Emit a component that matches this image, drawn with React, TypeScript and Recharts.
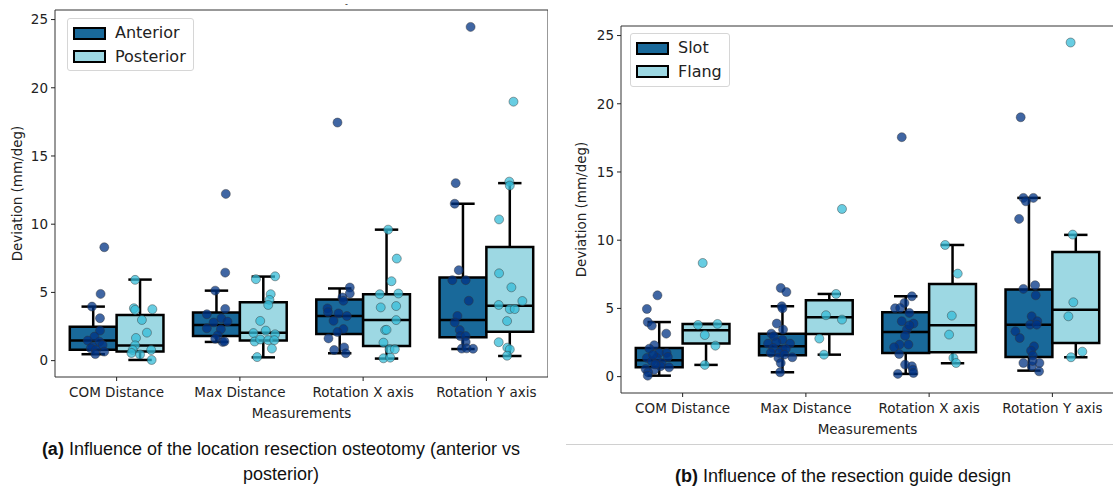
import React from 'react';
import { ScatterChart, Scatter, XAxis, YAxis, ReferenceArea, ReferenceLine } from 'recharts';

type Pair = [number, number]; // [value, jitter offset from the category centre]
type Stat = [number, number, number, number, number]; // [q1, median, q3, whisker low, whisker high]

const measurements = ['COM Distance', 'Max Distance', 'Rotation X axis', 'Rotation Y axis'];
const yTicks = [0, 5, 10, 15, 20, 25];
const xTicks = [0, 1, 2, 3];

// ---------- Panel (a): anterior vs posterior ----------
const anteriorBoxes: Stat[] = [
  [0.8, 1.47, 2.48, 0.47, 3.96],
  [1.81, 2.62, 3.52, 1.37, 5.13],
  [1.95, 3.27, 4.48, 0.54, 5.29],
  [1.71, 2.97, 6.09, 0.85, 11.5],
];
const posteriorBoxes: Stat[] = [
  [0.66, 1.1, 3.35, 0.05, 5.94],
  [1.47, 2.05, 4.28, 0.24, 6.16],
  [1.07, 2.97, 4.87, 0.15, 9.6],
  [2.12, 4.02, 8.33, 0.34, 13.01],
];
const anteriorCom: Pair[] = [[8.31, -0.1], [4.89, -0.13], [3.96, -0.2], [3.11, -0.135], [2.2, -0.135], [1.76, -0.18], [1.47, -0.235], [1.39, -0.14], [1.15, -0.114], [1.03, -0.195], [0.9, -0.21], [0.78, -0.168], [0.66, -0.1], [0.48, -0.173]];
const anteriorMax: Pair[] = [[12.22, -0.114], [6.45, -0.119], [5.13, -0.2], [3.79, -0.119], [3.4, -0.268], [3.1, -0.15], [2.8, -0.213], [2.86, -0.1], [2.37, -0.268], [2.3, -0.154], [1.85, -0.18], [1.6, -0.2], [1.37, -0.14], [1.4, -0.125]];
const anteriorRotX: Pair[] = [[17.45, -0.208], [5.36, -0.108], [4.92, -0.108], [4.63, -0.168], [4.39, -0.16], [3.83, -0.289], [3.55, -0.285], [3.46, -0.2], [3.27, -0.132], [2.92, -0.24], [2.31, -0.16], [2.1, -0.208], [1.63, -0.281], [0.78, -0.235], [0.97, -0.154], [0.54, -0.141]];
const anteriorRotY: Pair[] = [[24.46, -0.128], [13.01, -0.249], [11.5, -0.257], [6.63, -0.224], [5.9, -0.276], [5.9, -0.168], [4.39, -0.143], [3.27, -0.235], [2.8, -0.257], [2.24, -0.216], [1.8, -0.211], [1.8, -0.168], [1.37, -0.168], [0.88, -0.2], [0.9, -0.16], [0.87, -0.108]];
const posteriorCom: Pair[] = [[5.92, 0.15], [3.84, 0.14], [3.72, 0.15], [3.77, 0.29], [2.98, 0.205], [2.05, 0.246], [1.66, 0.157], [1.12, 0.15], [0.78, 0.13], [0.56, 0.12], [0.45, 0.19], [0.78, 0.28], [0.05, 0.284]];
const posteriorMax: Pair[] = [[5.97, 0.13], [6.18, 0.286], [4.87, 0.25], [4.45, 0.24], [4.08, 0.23], [2.91, 0.165], [2.02, 0.11], [2.2, 0.21], [1.93, 0.286], [1.4, 0.12], [1.55, 0.165], [1.5, 0.23], [1.5, 0.28], [0.88, 0.26], [0.26, 0.14]];
const posteriorRotX: Pair[] = [[9.6, 0.203], [7.48, 0.273], [5.82, 0.23], [4.87, 0.135], [4.92, 0.286], [3.9, 0.143], [4.0, 0.268], [2.97, 0.268], [2.24, 0.178], [2.26, 0.19], [1.32, 0.165], [0.83, 0.214], [0.83, 0.257], [0.17, 0.165], [0.22, 0.22]];
const posteriorRotY: Pair[] = [[18.98, 0.22], [13.12, 0.186], [12.83, 0.19], [10.35, 0.103], [6.4, 0.103], [5.37, 0.203], [4.37, 0.292], [4.08, 0.1], [3.78, 0.19], [3.78, 0.23], [2.9, 0.168], [1.35, 0.1], [0.95, 0.17], [0.82, 0.19], [0.36, 0.168]];

// ---------- Panel (b): slot vs flang ----------
const slotBoxes: Stat[] = [
  [0.68, 1.2, 2.1, 0.07, 4.0],
  [1.56, 2.22, 3.15, 0.32, 5.16],
  [1.74, 3.27, 4.72, 0.2, 5.89],
  [1.44, 3.81, 6.38, 0.44, 13.1],
];
const flangBoxes: Stat[] = [
  [2.42, 3.4, 3.86, 0.86, 3.86],
  [3.13, 4.35, 5.6, 1.61, 6.06],
  [1.78, 3.76, 6.79, 0.98, 9.65],
  [2.47, 4.91, 9.14, 1.42, 10.39],
];
const slotCom: Pair[] = [[5.96, -0.204], [4.96, -0.29], [4.0, -0.283], [3.74, -0.25], [3.15, -0.133], [2.3, -0.23], [2.05, -0.27], [1.74, -0.19], [1.74, -0.13], [1.44, -0.12], [1.37, -0.29], [1.37, -0.21], [1.12, -0.25], [1.0, -0.17], [0.76, -0.18], [0.68, -0.11], [0.56, -0.3], [0.5, -0.23], [0.32, -0.28], [0.07, -0.283], [0.9, -0.22], [1.6, -0.24]];
const slotMax: Pair[] = [[6.5, -0.204], [6.2, -0.158], [5.16, -0.196], [5.0, -0.19], [3.89, -0.236], [3.45, -0.185], [3.15, -0.28], [2.96, -0.26], [2.7, -0.19], [2.42, -0.307], [2.52, -0.24], [2.42, -0.128], [2.1, -0.265], [1.98, -0.19], [2.03, -0.163], [1.74, -0.217], [1.42, -0.11], [1.37, -0.223], [1.61, -0.174], [1.0, -0.204], [0.32, -0.209], [1.74, -0.285]];
const slotRotX: Pair[] = [[17.55, -0.222], [5.89, -0.14], [5.4, -0.2], [5.01, -0.276], [5.03, -0.235], [4.67, -0.16], [4.06, -0.222], [3.89, -0.127], [3.45, -0.18], [3.0, -0.195], [2.35, -0.168], [2.35, -0.24], [2.15, -0.284], [1.66, -0.243], [0.88, -0.195], [0.76, -0.14], [0.51, -0.132], [0.2, -0.254], [0.27, -0.127], [3.75, -0.16]];
const slotRotY: Pair[] = [[19.01, -0.257], [13.1, -0.235], [13.1, -0.154], [12.85, -0.215], [11.56, -0.27], [6.43, -0.235], [6.7, -0.14], [5.96, -0.135], [4.42, -0.168], [4.06, -0.122], [3.81, -0.181], [3.81, -0.127], [3.32, -0.3], [2.83, -0.265], [2.22, -0.149], [1.9, -0.173], [1.54, -0.159], [1.0, -0.235], [1.0, -0.105], [0.76, -0.167], [0.39, -0.108], [1.15, -0.16]];
const flangCom: Pair[] = [[8.33, 0.163], [3.79, 0.125], [3.86, 0.283], [3.05, 0.18], [2.27, 0.266], [0.86, 0.18]];
const flangMax: Pair[] = [[12.29, 0.293], [6.06, 0.245], [4.5, 0.163], [4.18, 0.293], [2.79, 0.109], [1.61, 0.147]];
const flangRotX: Pair[] = [[9.65, 0.13], [7.55, 0.232], [4.47, 0.184], [3.08, 0.162], [1.37, 0.197], [1.0, 0.219]];
const flangRotY: Pair[] = [[24.49, 0.148], [10.41, 0.165], [5.45, 0.17], [4.42, 0.13], [1.83, 0.243], [1.42, 0.151]];

const DARK_FILL = '#19699a';
const LIGHT_FILL = '#9dd8e3';
const DARK_DOT = '#003384';
const LIGHT_DOT = '#36bcd8';
const Y_DOMAIN: [number, number] = [-1.2, 25.7];
const X_DOMAIN: [number, number] = [-0.5, 3.5];
const DODGE = 0.19;
const HALF = 0.19;
const CAP = 0.095;
const LW = 2.5;
const FONT = '"DejaVu Sans", sans-serif';

type Group = { name: string; side: number; fill: string; dot: string; boxes: Stat[]; points: Pair[][] };

function toPoints(groups: Pair[][]) {
  const out: { x: number; y: number }[] = [];
  groups.forEach((arr, i) => arr.forEach(([v, j]) => out.push({ x: i + j, y: v })));
  return out;
}

function boxParts(g: Group, key: string) {
  const els: React.ReactNode[] = [];
  g.boxes.forEach(([q1, med, q3, lo, hi], i) => {
    const c = i + g.side * DODGE;
    els.push(<ReferenceLine key={`${key}wl${i}`} segment={[{ x: c, y: lo }, { x: c, y: q1 }]} stroke="#000" strokeWidth={LW} ifOverflow="visible" />);
    els.push(<ReferenceLine key={`${key}wh${i}`} segment={[{ x: c, y: q3 }, { x: c, y: hi }]} stroke="#000" strokeWidth={LW} ifOverflow="visible" />);
    els.push(<ReferenceLine key={`${key}cl${i}`} segment={[{ x: c - CAP, y: lo }, { x: c + CAP, y: lo }]} stroke="#000" strokeWidth={LW} ifOverflow="visible" />);
    els.push(<ReferenceLine key={`${key}ch${i}`} segment={[{ x: c - CAP, y: hi }, { x: c + CAP, y: hi }]} stroke="#000" strokeWidth={LW} ifOverflow="visible" />);
    els.push(<ReferenceArea key={`${key}b${i}`} x1={c - HALF} x2={c + HALF} y1={q1} y2={q3} fill={g.fill} fillOpacity={1} stroke="#000" strokeWidth={LW} ifOverflow="visible" />);
    els.push(<ReferenceLine key={`${key}m${i}`} segment={[{ x: c - HALF, y: med }, { x: c + HALF, y: med }]} stroke="#000" strokeWidth={LW} ifOverflow="visible" />);
  });
  return els;
}

const makeDot = (fill: string) => (p: any) => (
  <circle cx={p.cx} cy={p.cy} r={4.5} fill={fill} fillOpacity={0.75} stroke="#333" strokeOpacity={0.55} strokeWidth={0.8} />
);

function Panel({ groups, width, height, top, ylabelX }: { groups: Group[]; width: number; height: number; top: number; ylabelX: number }) {
  return (
    <ScatterChart width={width} height={height} margin={{ top, right: 0, left: 0, bottom: 8 }}>
      <XAxis
        type="number"
        dataKey="x"
        domain={X_DOMAIN}
        ticks={xTicks}
        allowDataOverflow
        height={43}
        tickFormatter={(v: number) => measurements[v] ?? ''}
        tick={{ fill: '#222', fontSize: 13.5, fontFamily: FONT }}
        tickSize={4}
        tickMargin={6}
        tickLine={{ stroke: '#222', strokeWidth: 1 }}
        axisLine={{ stroke: '#333', strokeWidth: 1 }}
        label={{ value: 'Measurements', position: 'insideBottom', offset: 2, fill: '#222', fontSize: 13.5, fontFamily: FONT }}
      />
      <YAxis
        type="number"
        dataKey="y"
        domain={Y_DOMAIN}
        ticks={yTicks}
        allowDataOverflow
        width={55}
        tick={{ fill: '#222', fontSize: 13.5, fontFamily: FONT }}
        tickSize={4}
        tickMargin={3}
        tickLine={{ stroke: '#222', strokeWidth: 1 }}
        axisLine={{ stroke: '#333', strokeWidth: 1 }}
        label={{
          content: (props: any) => {
            const vb = props.viewBox || {};
            const cx = (vb.x ?? 0) + ylabelX;
            const cy = (vb.y ?? 0) + (vb.height ?? 0) / 2;
            return (
              <text transform={`translate(${cx},${cy}) rotate(-90)`} textAnchor="middle" dominantBaseline="central" fill="#222" fontSize={13.5} fontFamily={FONT}>
                Deviation (mm/deg)
              </text>
            );
          },
        }}
      />
      <ReferenceLine y={Y_DOMAIN[1]} stroke="#333" strokeWidth={1} ifOverflow="visible" />
      <ReferenceLine x={X_DOMAIN[1]} stroke="#333" strokeWidth={1} ifOverflow="visible" />
      {groups.map((g, gi) => boxParts(g, `g${gi}`))}
      {groups.map((g, gi) => (
        <Scatter key={`s${gi}`} name={g.name} data={toPoints(g.points)} shape={makeDot(g.dot)} isAnimationActive={false} />
      ))}
    </ScatterChart>
  );
}

function LegendBox({ left, top, width, height, items }: { left: number; top: number; width: number; height: number; items: { name: string; fill: string }[] }) {
  return (
    <div style={{ position: 'absolute', left, top, width, height, border: '1px solid #d6d6d6', borderRadius: 3, background: 'rgba(255,255,255,0.85)', boxSizing: 'border-box' }}>
      {items.map((it, i) => (
        <div key={it.name} style={{ position: 'absolute', left: 5, top: 6 + i * 23.5, height: 16, display: 'flex', alignItems: 'center' }}>
          <div style={{ width: 33, height: 13, background: it.fill, border: '2.5px solid #000', boxSizing: 'border-box' }} />
          <span style={{ marginLeft: 9, fontFamily: FONT, fontSize: 16, color: '#222', lineHeight: '16px' }}>{it.name}</span>
        </div>
      ))}
    </div>
  );
}

const panelA: Group[] = [
  { name: 'Anterior', side: -1, fill: DARK_FILL, dot: DARK_DOT, boxes: anteriorBoxes, points: [anteriorCom, anteriorMax, anteriorRotX, anteriorRotY] },
  { name: 'Posterior', side: 1, fill: LIGHT_FILL, dot: LIGHT_DOT, boxes: posteriorBoxes, points: [posteriorCom, posteriorMax, posteriorRotX, posteriorRotY] },
];
const panelB: Group[] = [
  { name: 'Slot', side: -1, fill: DARK_FILL, dot: DARK_DOT, boxes: slotBoxes, points: [slotCom, slotMax, slotRotX, slotRotY] },
  { name: 'Flang', side: 1, fill: LIGHT_FILL, dot: LIGHT_DOT, boxes: flangBoxes, points: [flangCom, flangMax, flangRotX, flangRotY] },
];

export default function App() {
  return (
    <div style={{ position: 'absolute', left: 0, top: 0, width: 1113, height: 486, overflow: 'hidden', background: '#fff' }}>
      <div style={{ position: 'absolute', left: 0, top: 0 }}>
        <Panel groups={panelA} width={548} height={428} top={10} ylabelX={17} />
      </div>
      <div style={{ position: 'absolute', left: 566, top: 0 }}>
        <Panel groups={panelB} width={548} height={444} top={26} ylabelX={15} />
      </div>
      <div style={{ position: 'absolute', left: 345, top: 1, fontFamily: FONT, fontSize: 8, lineHeight: '8px', color: '#222' }}>-</div>
      <LegendBox left={67} top={18} width={127} height={53} items={[{ name: 'Anterior', fill: DARK_FILL }, { name: 'Posterior', fill: LIGHT_FILL }]} />
      <LegendBox left={630} top={33} width={100} height={54} items={[{ name: 'Slot', fill: DARK_FILL }, { name: 'Flang', fill: LIGHT_FILL }]} />
      <div style={{ position: 'absolute', left: 566, top: 444, width: 547, height: 1, background: '#d0d0d0' }} />
      <div style={{ position: 'absolute', left: 0, top: 437, width: 562, textAlign: 'center', fontFamily: '"Liberation Sans", Arial, sans-serif', fontSize: 18, lineHeight: '25px', color: '#111' }}>
        <b>(a)</b> Influence of the location resection osteotomy (anterior vs
        <br />
        posterior)
      </div>
      <div style={{ position: 'absolute', left: 543, top: 464, width: 600, textAlign: 'center', fontFamily: '"Liberation Sans", Arial, sans-serif', fontSize: 18, lineHeight: '25px', color: '#111' }}>
        <b>(b)</b> Influence of the resection guide design
      </div>
    </div>
  );
}
